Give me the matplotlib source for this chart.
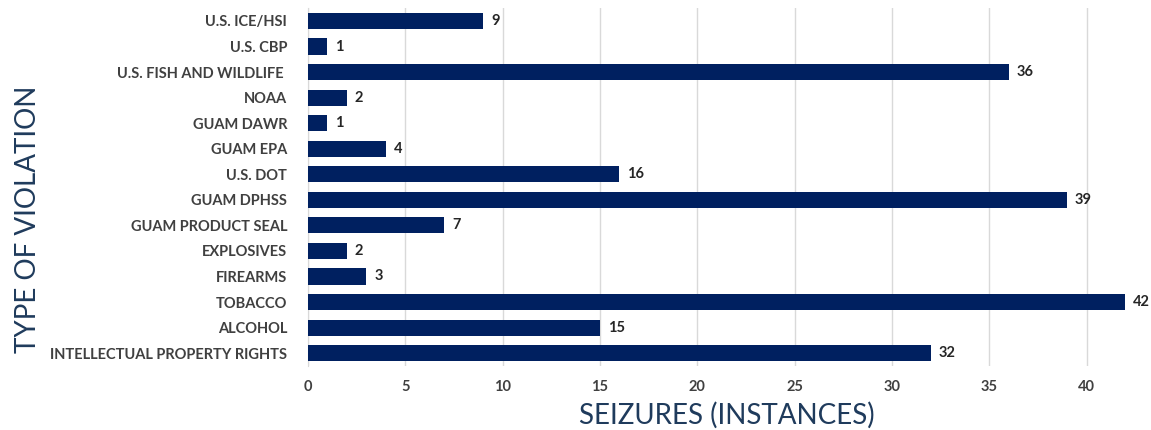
import matplotlib.pyplot as plt

# Categories listed top to bottom as they appear
categories = [
    "U.S. ICE/HSI", "U.S. CBP", "U.S. FISH AND WILDLIFE ", "NOAA", "GUAM DAWR",
    "GUAM EPA", "U.S. DOT", "GUAM DPHSS", "GUAM PRODUCT SEAL", "EXPLOSIVES",
    "FIREARMS", "TOBACCO", "ALCOHOL", "INTELLECTUAL PROPERTY RIGHTS",
]
seizures = [9, 1, 36, 2, 1, 4, 16, 39, 7, 2, 3, 42, 15, 32]
xticks = [0, 5, 10, 15, 20, 25, 30, 35, 40]

bar_color = "#002060"
label_color = "#404040"
title_color = "#1F3B5C"

plt.rcParams['font.family'] = ['Lato', 'DejaVu Sans']

fig = plt.figure(figsize=(11.51, 4.30), dpi=100)
ax = fig.add_axes([0.2676, 0.149, 0.728, 0.832])

ypos = list(range(len(categories)))
ax.barh(ypos, seizures, height=0.63, color=bar_color, zorder=3)
for y, v in zip(ypos, seizures):
    ax.text(v + 0.4, y, str(v), va="center", ha="left", fontsize=10.5,
            fontweight="bold", color="#262626")

ax.set_ylim(len(categories) - 0.5, -0.5)
ax.set_xlim(0, 43.05)
ax.set_yticks(ypos)
ax.set_yticklabels(categories, fontsize=10.5, fontweight="bold", color=label_color)
ax.set_xticks(xticks)
ax.set_xticklabels([str(t) for t in xticks], fontsize=10.5, fontweight="bold",
                   color=label_color)
ax.tick_params(length=0, pad=10)
ax.tick_params(axis="y", pad=15)

ax.grid(axis="x", color="#D9D9D9", linewidth=1, zorder=0)
for s in ["top", "right", "bottom"]:
    ax.spines[s].set_visible(False)
ax.spines["left"].set_color("#D9D9D9")

ax.set_xlabel("SEIZURES (INSTANCES)", fontsize=20, color=title_color, labelpad=6)
fig.text(0.024, 0.49, "TYPE OF VIOLATION", rotation=90, fontsize=20,
         color=title_color, va="center", ha="center")

fig.savefig("out.png", dpi=100)
